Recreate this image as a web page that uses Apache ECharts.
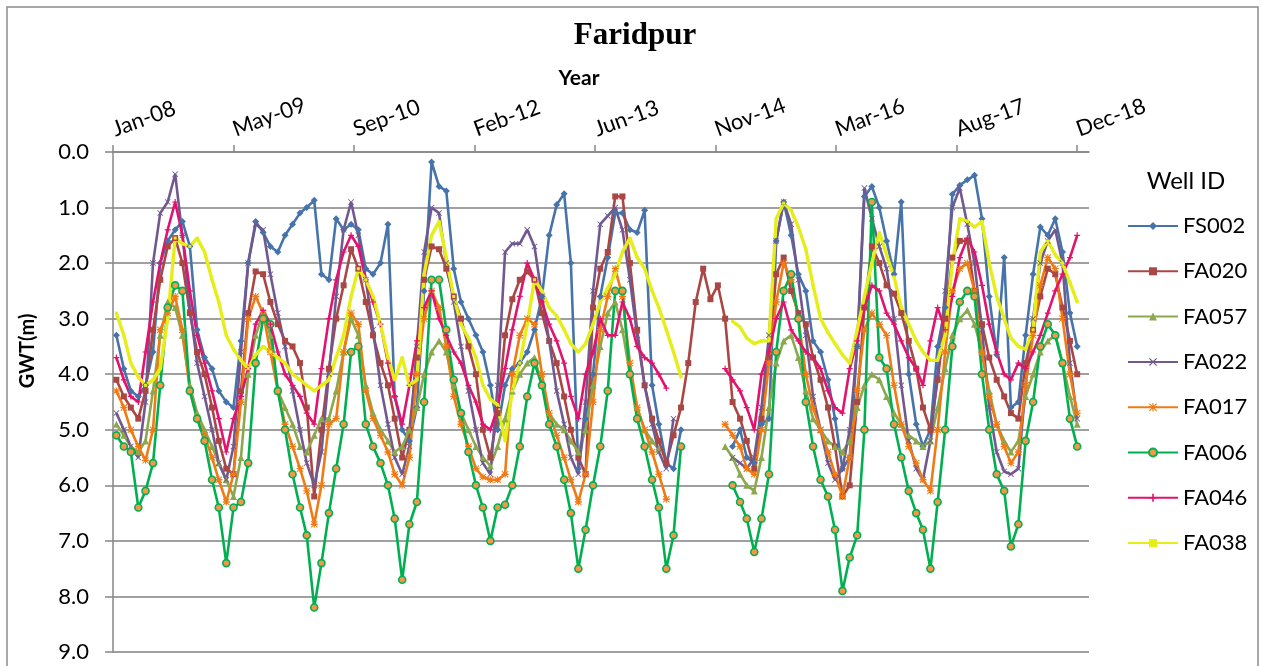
<!DOCTYPE html>
<html><head><meta charset="utf-8">
<script src="https://cdn.jsdelivr.net/npm/echarts@6/dist/echarts.min.js"></script>
<style>html,body{margin:0;padding:0;background:#fff}#c{width:1261px;height:666px}</style>
</head><body><div id="c"></div>
<script>
const _ = null;
// Monthly GWT (m) readings, Jan-2008 .. Dec-2018 (132 months)
const firstYear = 2008;
const wellIds = ['FS002','FA020','FA057','FA022','FA017','FA006','FA046','FA038'];
const fs002 = [
 3.3,3.9,4.3,4.4,4.2,3.6,2.0,1.6,1.4,1.25,1.7,3.2,
 3.7,3.9,4.3,4.5,4.6,3.4,2.0,1.25,1.45,1.7,1.8,1.5,
 1.3,1.1,1.0,0.87,2.2,2.3,1.2,1.4,1.3,1.4,2.1,2.2,
 2.0,1.3,4.4,5.0,5.2,4.6,2.5,0.18,0.62,0.7,2.1,2.7,
 3.0,3.3,3.6,4.2,5.0,4.2,3.9,3.8,3.6,3.2,2.6,1.5,
 0.95,0.75,2.0,5.7,4.8,4.0,2.6,1.9,1.1,1.1,1.4,1.45,
 1.05,4.2,4.9,5.6,5.7,5.0,_,_,_,_,_,_,
 5.3,5.0,5.5,5.6,4.9,4.8,1.6,0.9,1.5,2.2,2.5,3.4,
 3.6,4.1,4.8,5.7,5.5,3.5,0.8,0.62,1.0,1.6,2.2,0.9,
 4.0,4.9,5.3,5.0,3.5,2.8,0.76,0.6,0.5,0.42,1.2,2.6,
 3.65,1.9,4.6,4.5,3.3,2.2,1.35,1.5,1.2,1.8,2.9,3.5];
const fa020 = [
 4.1,4.4,4.6,4.8,4.3,3.2,2.3,1.7,1.55,2.0,2.9,3.6,
 4.0,4.6,5.2,5.7,5.8,4.3,2.9,2.15,2.2,2.7,3.1,3.4,
 3.5,3.8,4.6,6.2,5.0,3.9,3.0,2.4,1.75,2.1,2.7,3.3,
 3.8,4.2,4.8,5.5,5.0,3.7,2.3,1.7,1.75,2.1,2.6,3.0,
 3.5,4.0,5.0,5.5,4.7,3.3,2.65,2.3,2.15,2.3,2.9,3.4,
 3.8,4.4,5.0,5.5,5.8,2.8,2.1,1.8,0.8,0.8,2.0,3.2,
 4.2,4.8,5.2,5.6,5.1,4.6,3.8,2.7,2.1,2.65,2.4,3.0,
 4.5,4.8,5.2,5.7,4.8,3.7,2.2,1.9,2.5,2.9,3.1,3.7,
 4.1,4.6,5.3,6.2,6.0,4.5,2.8,1.7,2.0,2.4,2.55,2.9,
 3.4,3.9,4.6,5.0,4.1,3.0,1.9,1.6,1.6,2.5,3.1,3.7,
 4.1,4.4,4.7,4.8,3.8,3.2,2.6,2.1,2.2,2.8,3.4,4.0];
const fa057 = [
 4.9,5.1,5.3,5.4,5.2,4.3,3.3,2.7,2.8,3.3,4.2,4.7,
 5.0,5.3,5.6,5.9,6.2,5.5,4.0,3.3,2.9,3.3,4.3,4.6,
 4.9,5.3,5.4,5.1,4.8,4.8,4.3,3.6,3.0,3.3,4.2,4.7,
 5.0,5.2,5.4,5.3,5.0,4.6,4.0,3.6,3.4,3.6,4.2,4.7,
 5.0,5.3,5.5,5.65,5.3,4.8,4.3,4.0,3.8,3.7,4.2,4.7,
 4.9,5.0,5.2,5.4,5.0,4.2,3.5,2.9,2.7,3.2,4.0,4.6,
 5.0,5.2,5.35,_,_,_,_,_,_,_,_,5.3,
 5.5,5.8,6.0,6.1,5.5,4.6,3.8,3.4,3.3,3.7,4.3,4.8,
 5.0,5.2,5.3,5.4,5.2,4.6,4.2,4.0,4.1,4.4,4.7,4.9,
 5.1,5.2,5.3,5.2,4.6,3.9,3.3,3.0,2.85,3.1,3.6,4.3,
 4.9,5.2,5.4,5.2,4.4,4.0,3.6,3.4,3.3,3.8,4.4,4.9];
const fa022 = [
 4.7,5.0,5.3,5.5,4.5,2.0,1.1,0.9,0.4,1.5,2.8,3.8,
 4.4,5.0,5.6,5.9,5.3,3.6,2.0,1.3,1.4,2.2,2.9,3.5,
 4.3,5.0,5.6,6.0,5.4,4.0,2.6,1.4,0.9,1.5,2.3,3.2,
 4.2,4.9,5.5,5.8,5.3,3.5,1.8,1.0,1.1,2.0,2.7,3.5,
 4.3,5.0,5.6,5.8,4.2,1.8,1.65,1.65,1.4,1.7,2.6,3.4,
 4.3,4.9,5.5,5.8,4.5,2.5,1.3,1.15,1.0,1.4,2.3,3.3,
 4.2,4.9,5.4,5.7,4.8,_,_,_,_,_,_,_,
 5.5,5.6,5.7,5.5,4.6,3.3,1.6,0.9,1.3,2.3,3.3,4.4,
 5.0,5.6,5.9,5.7,5.0,3.5,0.65,1.2,1.7,2.1,3.0,4.2,
 5.2,5.7,5.9,5.2,4.0,2.5,1.0,0.65,1.3,2.0,3.2,4.6,
 5.4,5.75,5.8,5.7,4.2,3.0,2.0,1.6,1.4,2.0,3.8,4.8];
const fa017 = [
 4.3,4.6,5.0,5.3,5.55,5.0,3.2,2.9,2.6,3.2,4.3,4.8,
 5.1,5.5,5.9,6.3,5.8,4.5,3.0,2.6,2.9,3.6,4.3,4.9,
 5.3,5.7,6.1,6.7,6.0,4.9,4.8,3.6,2.9,3.1,4.3,4.8,
 5.1,5.4,5.8,6.0,5.5,4.0,3.0,2.5,2.8,3.5,4.4,4.9,
 5.3,5.7,5.85,5.9,5.9,5.8,4.0,3.3,3.0,3.1,4.0,4.7,
 5.1,5.5,5.9,6.3,5.8,4.5,3.2,2.6,2.1,2.6,3.8,4.6,
 5.0,5.4,5.8,6.25,_,_,_,_,_,_,_,4.9,
 5.1,5.3,5.7,5.8,5.0,3.8,2.7,2.0,2.3,3.0,4.0,4.6,
 5.0,5.4,5.8,6.2,5.5,4.3,3.2,2.9,3.1,3.3,4.2,4.9,
 5.3,5.6,5.9,6.1,5.0,3.6,2.5,2.1,2.0,2.5,3.6,4.4,
 4.9,5.3,5.6,5.4,4.2,3.3,2.4,1.9,2.1,3.0,4.0,4.7];
const fa006 = [
 5.1,5.3,5.4,6.4,6.1,5.6,4.2,2.8,2.4,2.5,4.3,4.8,
 5.2,5.9,6.4,7.4,6.4,6.3,5.6,3.8,3.0,3.1,4.3,5.0,
 5.8,6.4,6.9,8.2,7.4,6.5,5.7,4.9,3.6,3.5,4.9,5.3,
 5.6,6.0,6.6,7.7,6.7,6.3,4.5,2.3,2.3,3.2,4.1,4.7,
 5.4,6.0,6.4,7.0,6.4,6.35,6.0,5.3,4.4,3.8,4.2,4.9,
 5.3,5.9,6.5,7.5,6.8,6.0,5.3,4.3,2.5,2.5,4.0,4.8,
 5.3,5.9,6.4,7.5,6.9,5.3,_,_,_,_,_,_,
 6.0,6.3,6.6,7.2,6.6,5.8,3.6,2.5,2.2,3.0,4.5,5.3,
 5.9,6.2,6.8,7.9,7.3,6.9,5.0,0.9,3.7,3.9,4.9,5.5,
 6.1,6.5,6.8,7.5,6.3,5.0,3.5,2.7,2.5,2.6,4.0,5.0,
 5.8,6.1,7.1,6.7,5.2,4.5,3.5,3.1,3.3,3.8,4.8,5.3];
const fa046 = [
 3.7,4.1,4.4,4.5,3.6,2.7,2.0,1.4,0.9,1.5,2.5,3.3,
 3.8,4.3,4.8,5.4,4.8,4.4,3.9,3.1,2.85,3.1,3.6,4.0,
 4.2,4.4,4.7,4.9,3.9,3.0,2.3,1.8,1.5,1.7,2.3,2.7,
 3.1,3.8,4.4,4.9,4.2,3.4,2.8,2.5,3.0,3.3,3.6,3.8,
 4.2,4.5,4.9,5.0,4.6,3.9,3.2,2.6,2.0,2.3,2.7,3.1,
 3.4,3.8,4.4,4.8,4.0,3.6,3.0,3.3,3.3,2.7,3.0,3.5,
 3.7,3.8,4.0,4.25,_,_,_,_,_,_,_,3.9,
 4.1,4.3,4.6,5.0,4.0,3.6,3.0,2.7,3.2,3.4,3.6,3.7,
 3.9,4.3,4.6,4.7,3.9,3.4,2.8,2.4,2.5,2.9,3.1,3.4,
 3.7,3.9,4.2,3.4,2.8,3.2,2.6,1.9,1.55,1.8,2.4,3.1,
 3.6,4.0,4.1,3.8,3.9,3.6,3.3,2.9,2.5,2.2,1.9,1.5];
const fa038 = [
 2.9,3.3,3.8,4.05,4.2,4.1,3.9,3.0,1.55,1.65,1.7,1.55,
 1.8,2.3,2.7,3.3,3.55,3.75,3.9,3.65,3.5,3.6,3.7,3.8,
 4.0,4.1,4.2,4.3,4.2,4.1,3.7,3.3,2.6,2.1,2.3,2.6,
 3.1,3.7,4.1,3.7,4.2,4.1,2.2,1.5,1.25,1.9,2.6,3.1,
 3.35,3.7,4.2,4.45,4.55,5.2,4.3,3.8,3.1,2.3,2.5,2.8,
 2.95,3.2,3.45,3.6,3.45,3.1,2.7,2.45,2.2,1.8,1.55,1.9,
 2.1,2.5,2.8,3.2,3.6,4.05,_,_,_,_,_,_,
 3.05,3.15,3.35,3.45,3.4,3.4,1.2,0.92,1.05,1.35,1.75,2.4,
 3.0,3.25,3.45,3.65,3.8,3.2,2.6,2.0,1.45,1.85,2.25,2.8,
 3.1,3.4,3.6,3.75,3.75,3.3,2.0,1.2,1.25,1.35,1.25,2.0,
 2.6,3.0,3.35,3.5,3.55,3.2,1.8,1.6,1.85,2.0,2.35,2.7];
// x-axis ticks: days after 1-Jan-2008 (500-day steps)
const xTickDays = [0,500,1000,1500,2000,2500,3000,3500,4000];
const yTicks = [0,1,2,3,4,5,6,7,8,9];

const DAY = 86400000, T0 = Date.UTC(firstYear,0,1);
const MON = ['Jan','Feb','Mar','Apr','May','Jun','Jul','Aug','Sep','Oct','Nov','Dec'];
function dayOf(i){ return (Date.UTC(firstYear, i, 15) - T0) / DAY; }
function fmtDay(v){ const d = new Date(T0 + v*DAY); return MON[d.getUTCMonth()] + '-' + String(d.getUTCFullYear()).slice(2); }

const P_X = 'path://M0,1 L1,0 L5,4 L9,0 L10,1 L6,5 L10,9 L9,10 L5,6 L1,10 L0,9 L4,5 Z';
const P_PLUS = 'path://M4,0 H6 V4 H10 V6 H6 V10 H4 V6 H0 V4 H4 Z';
const P_STAR = 'path://M4.2,0 H5.8 V4 H10 V6 H5.8 V10 H4.2 V6 H0 V4 H4.2 Z M0,1 L1,0 L5,4 L9,0 L10,1 L6,5 L10,9 L9,10 L5,6 L1,10 L0,9 L4,5 Z';

const FONT = 'Lato';
function mk(name, vals, color, symbol, size, opts){
  opts = opts || {};
  return {
    type:'line', name: name,
    data: vals.map((v,i)=>[dayOf(i), v]),
    symbol: symbol, symbolSize: size, showSymbol: true,
    connectNulls:false,
    lineStyle:{color: color, width: opts.lw || 2.6},
    itemStyle: opts.item || {color: color},
    emphasis:{disabled:true}, animation:false
  };
}

const chart = echarts.init(document.getElementById('c'));
chart.setOption({
  backgroundColor:'#fff',
  animation:false,
  grid:{left:113, top:152, right:172, bottom:14, containLabel:false},
  xAxis:{
    type:'value', position:'top', min:0, max:4050, interval:500,
    axisLine:{show:true, lineStyle:{color:'#868686', width:1.5}},
    axisTick:{show:true, inside:false, length:7, lineStyle:{color:'#868686', width:1.5}, customValues:xTickDays},
    axisLabel:{rotate:20, margin:22, fontSize:22, fontFamily:FONT, color:'#000', formatter:fmtDay, showMaxLabel:true, customValues:xTickDays},
    splitLine:{show:false}
  },
  yAxis:{
    type:'value', inverse:true, min:0, max:9, interval:1,
    axisLine:{show:true, lineStyle:{color:'#868686', width:1.5}},
    axisTick:{show:true, inside:false, length:8, lineStyle:{color:'#868686', width:1.5}},
    axisLabel:{margin:24, fontSize:22, fontFamily:FONT, color:'#000', formatter:v=>v.toFixed(1)},
    splitLine:{show:true, lineStyle:{color:'#A0A0A0', width:1.8}}
  },
  legend:{
    orient:'vertical', left:1122, top:210, itemWidth:50, itemHeight:10, itemGap:23.3,
    textStyle:{fontSize:22, fontFamily:FONT, color:'#000', lineHeight:20},
    data: wellIds
  },
  graphic:[
    {type:'rect', shape:{x:7, y:7, width:1251, height:700}, style:{fill:'none', stroke:'#8C8C8C', lineWidth:1.5}, silent:true, z:-1},
    {type:'text', x:635, y:36, style:{text:'Faridpur', font:'bold 31px "Liberation Serif"', fill:'#000', textAlign:'center', textVerticalAlign:'middle'}},
    {type:'text', x:579, y:78, style:{text:'Year', font:'bold 21px Lato', fill:'#000', textAlign:'center', textVerticalAlign:'middle'}},
    {type:'text', x:28, y:351, rotation:Math.PI/2, style:{text:'GWT(m)', font:'bold 20px Lato', fill:'#000', textAlign:'center', textVerticalAlign:'middle'}},
    {type:'text', x:1186, y:181, style:{text:'Well ID', font:'24px Lato', fill:'#000', textAlign:'center', textVerticalAlign:'middle'}}
  ],
  series:[
    mk('FS002', fs002, '#4674AA', 'diamond', 7),
    mk('FA020', fa020, '#AA4643', 'rect', 6),
    mk('FA057', fa057, '#8BA84E', 'triangle', 7),
    mk('FA022', fa022, '#71588F', P_X, 6),
    mk('FA017', fa017, '#F07B14', P_STAR, 7),
    mk('FA006', fa006, '#00B050', 'circle', 7, {item:{color:'#F79646', borderColor:'#00B050', borderWidth:1.6}}),
    mk('FA046', fa046, '#E3126E', P_PLUS, 6),
    mk('FA038', fa038, '#E6EE1A', 'rect', 3, {lw:3.4})
  ]
});
</script></body></html>
